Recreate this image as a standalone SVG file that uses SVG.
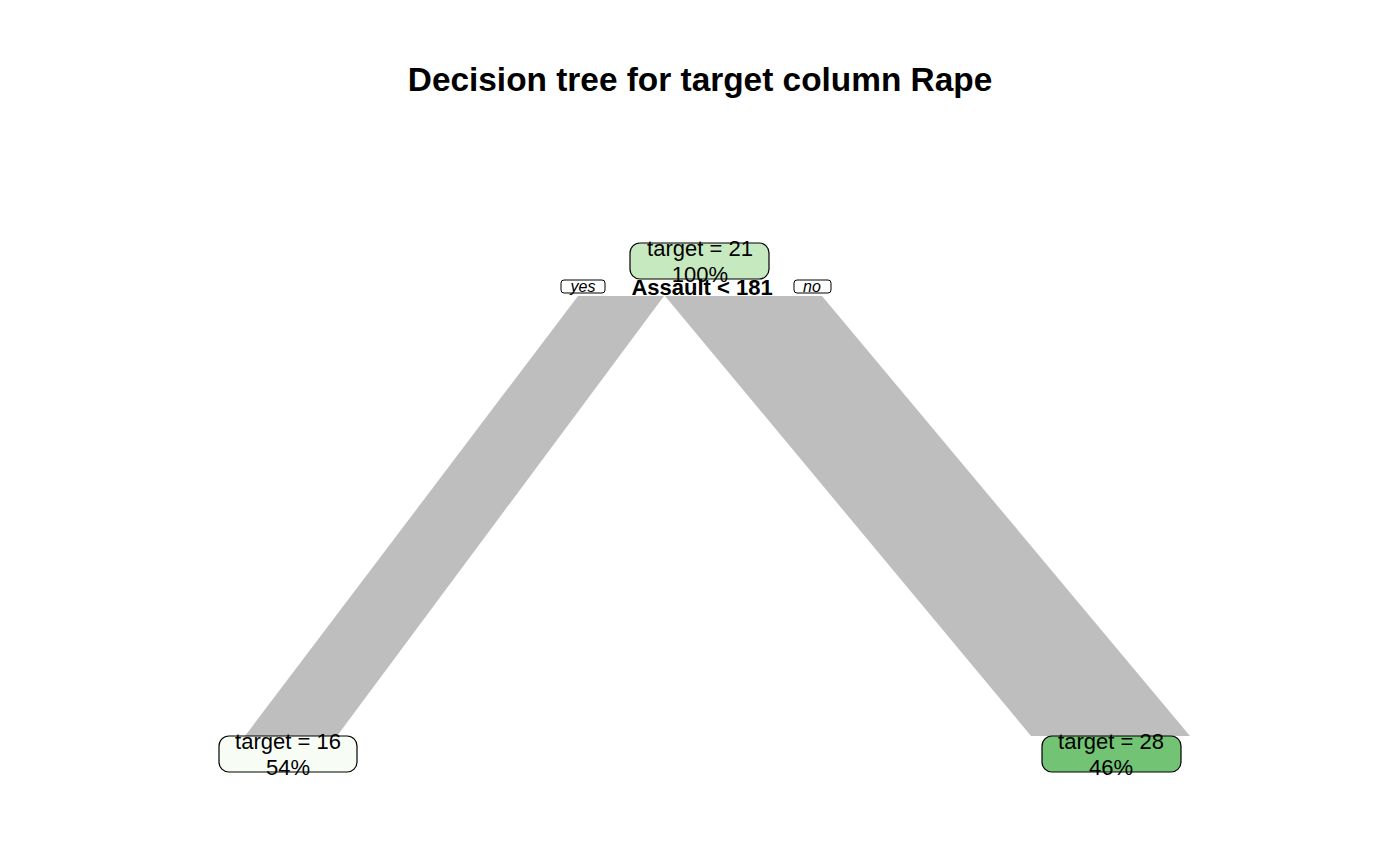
<svg xmlns="http://www.w3.org/2000/svg" width="1400" height="866" viewBox="0 0 1400 866">
<style>
.t{font-family:"Liberation Sans",Arial,sans-serif;fill:#000}
.title{font-size:33.4px;font-weight:bold}
.node{stroke:#000;stroke-width:1.2}
.lbl{font-size:22px}
.split{font-size:22px;font-weight:bold}
.yn{font-size:16px;font-style:italic}
.branch{fill:#bebebe;stroke:none}
.ynbox{fill:#fff;stroke:#000;stroke-width:1}
</style>
<rect width="1400" height="866" fill="#fff"/>
<text class="t title" x="700" y="91" text-anchor="middle">Decision tree for target column Rape</text>
<g id="connectors">
<polygon class="branch" points="578,296 664,296 337,736 245,736"/>
<polygon class="branch" points="665,296 822,296 1190,736 1031,736"/>
</g>
<g id="root">
<rect class="node" x="630" y="243" width="139" height="36" rx="10" fill="#c7e9c0"/>
<text class="t lbl" x="700" y="256" text-anchor="middle">target = 21</text>
<text class="t lbl" x="700" y="282" text-anchor="middle">100%</text>
<text class="t split" x="702" y="295" text-anchor="middle">Assault &lt; 181</text>
<rect class="ynbox" x="561" y="280" width="44" height="13" rx="3"/>
<text class="t yn" x="583" y="292" text-anchor="middle">yes</text>
<rect class="ynbox" x="794" y="280" width="37" height="13" rx="3"/>
<text class="t yn" x="812" y="292" text-anchor="middle">no</text>
</g>
<g id="leaf-left">
<rect class="node" x="219" y="736" width="138" height="36" rx="10" fill="#f7fcf5"/>
<text class="t lbl" x="288" y="749" text-anchor="middle">target = 16</text>
<text class="t lbl" x="288" y="775" text-anchor="middle">54%</text>
</g>
<g id="leaf-right">
<rect class="node" x="1042" y="736" width="139" height="36" rx="10" fill="#72c374"/>
<text class="t lbl" x="1111" y="749" text-anchor="middle">target = 28</text>
<text class="t lbl" x="1111" y="775" text-anchor="middle">46%</text>
</g>
</svg>
